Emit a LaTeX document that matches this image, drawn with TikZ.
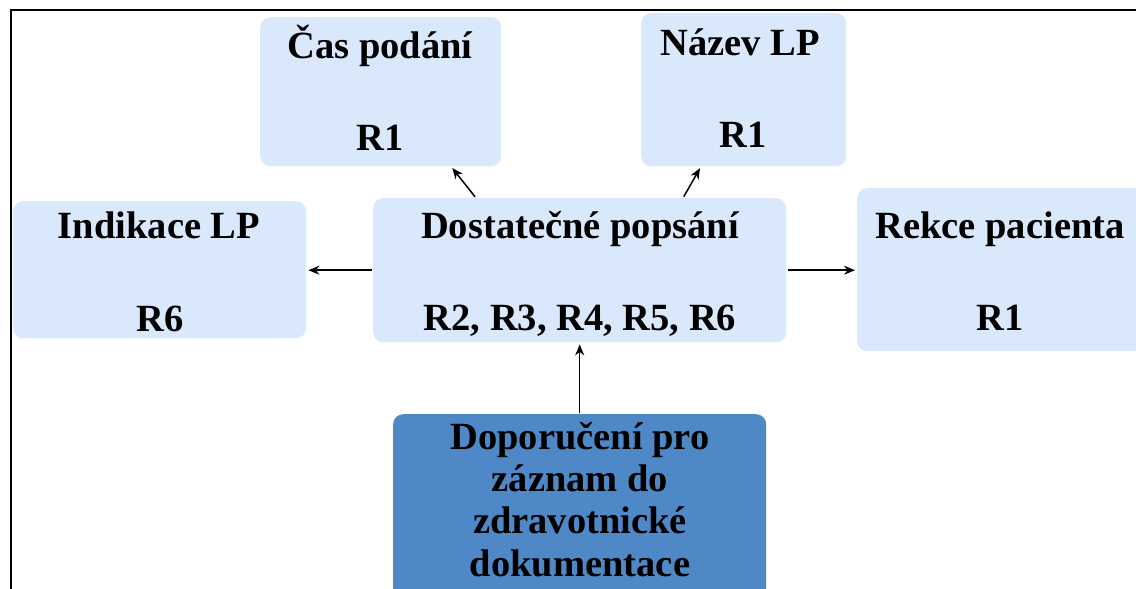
\documentclass[tikz,border=0pt]{standalone}
\usepackage{fontspec}
\setmainfont{Liberation Serif}
\usetikzlibrary{arrows.meta,calc}
\definecolor{lightbox}{HTML}{DAE8FC}
\definecolor{darkbox}{HTML}{4F88C6}
\begin{document}
\begin{tikzpicture}[x=1pt,y=-1pt,
  boxstyle/.style={rectangle,rounded corners=10pt,fill=lightbox,draw=none,anchor=north west,inner sep=0pt,minimum width=#1},
  darkstyle/.style={rectangle,rounded corners=10pt,fill=darkbox,draw=none,anchor=north west,inner sep=0pt,minimum width=#1},
  txt/.style={anchor=base,inner sep=0pt,font=\fontsize{38.5}{42}\selectfont\bfseries},
  conn/.style={-{Stealth[length=11pt,width=9pt]},line width=1.5pt,black,shorten <=1.5pt,shorten >=2pt}]
\useasboundingbox (0,0) rectangle (1136,589);
\clip (0,0) rectangle (1136,589);
\draw[line width=2pt] (11,10) rectangle (1160,620);
% boxes
\node[boxstyle=241pt,minimum height=149pt] (cas) at (260,17) {};
\node[boxstyle=205pt,minimum height=153pt] (naz) at (641,13) {};
\node[boxstyle=293pt,minimum height=137pt] (ind) at (13,201) {};
\node[boxstyle=413pt,minimum height=144pt] (dost) at (373,198) {};
\node[boxstyle=290pt,minimum height=163pt] (rek) at (857,188) {};
\node[darkstyle=373pt,minimum height=220pt] (dop) at (393,414) {};
% texts
\node[txt] (t1) at (380,58) {Čas podání};
\node[txt] (t2) at (380,150) {R1};
\node[txt] (t3) at (740,55) {Název LP};
\node[txt] (t4) at (743,147) {R1};
\node[txt] (t5) at (159,238) {Indikace LP};
\node[txt] (t6) at (160,331) {R6};
\node[txt] (t7) at (580,238) {Dostatečné popsání};
\node[txt] (t8) at (580,330) {R2, R3, R4, R5, R6};
\node[txt] (t9) at (1000,238) {Rekce pacienta};
\node[txt] (t10) at (1000,330) {R1};
\node[txt] (t11) at (580,449) {Doporučení pro};
\node[txt] (t12) at (580,491) {záznam do};
\node[txt] (t13) at (580,533) {zdravotnické};
\node[txt] (t14) at (580,576) {dokumentace};
% connectors
\draw[conn] ($(dost.north west)+(103,0)$) -- ($(cas.south west)+(191,0)$);
\draw[conn] ($(dost.north west)+(310,0)$) -- ($(naz.south west)+(60,0)$);
\draw[conn] (dost.west) -- (ind.east |- dost.west);
\draw[conn] (dost.east) -- (rek.west |- dost.east);
\draw[conn] (dop.north) -- (dost.south);
\end{tikzpicture}
\end{document}
